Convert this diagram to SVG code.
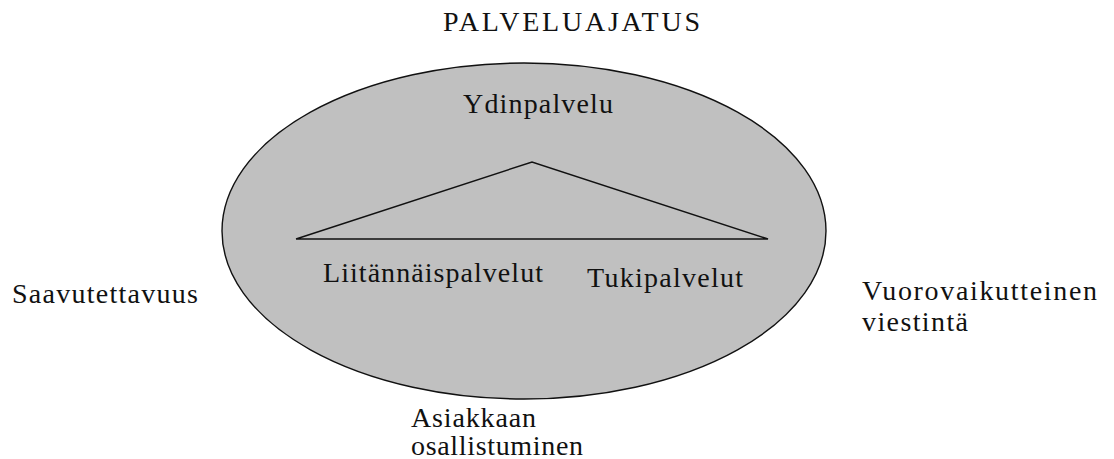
<svg xmlns="http://www.w3.org/2000/svg" width="1114" height="459" viewBox="0 0 1114 459">
<style>
.t{font-family:"Liberation Serif","Times New Roman",serif;font-size:28px;fill:#111}
.ln{fill:none;stroke:#111;stroke-width:1.5}
</style>
<rect width="1114" height="459" fill="#fff"/>
<g id="title"><text class="t" x="443" y="31" textLength="257" lengthAdjust="spacing">PALVELUAJATUS</text></g>
<g id="ellipse"><ellipse cx="524" cy="231" rx="302" ry="168" fill="#c0c0c0" stroke="#111" stroke-width="1.4"/></g>
<g id="connectors">
<polyline class="ln" points="296,239 532,162 768,239 296,239"/>
</g>
<g id="ydinpalvelu"><text class="t" x="463" y="113" textLength="150" lengthAdjust="spacing">Ydinpalvelu</text></g>
<g id="liitannaispalvelut"><text class="t" x="323" y="282" textLength="220" lengthAdjust="spacing">Liitännäispalvelut</text></g>
<g id="tukipalvelut"><text class="t" x="587" y="287" textLength="156" lengthAdjust="spacing">Tukipalvelut</text></g>
<g id="saavutettavuus"><text class="t" x="12" y="303" textLength="186" lengthAdjust="spacing">Saavutettavuus</text></g>
<g id="vuorovaikutteinen"><text class="t" x="862" y="300" textLength="235" lengthAdjust="spacing">Vuorovaikutteinen</text><text class="t" x="862" y="331" textLength="106" lengthAdjust="spacing">viestintä</text></g>
<g id="asiakkaan"><text class="t" x="411" y="427" textLength="125" lengthAdjust="spacing">Asiakkaan</text><text class="t" x="411" y="455" textLength="172" lengthAdjust="spacing">osallistuminen</text></g>
</svg>
